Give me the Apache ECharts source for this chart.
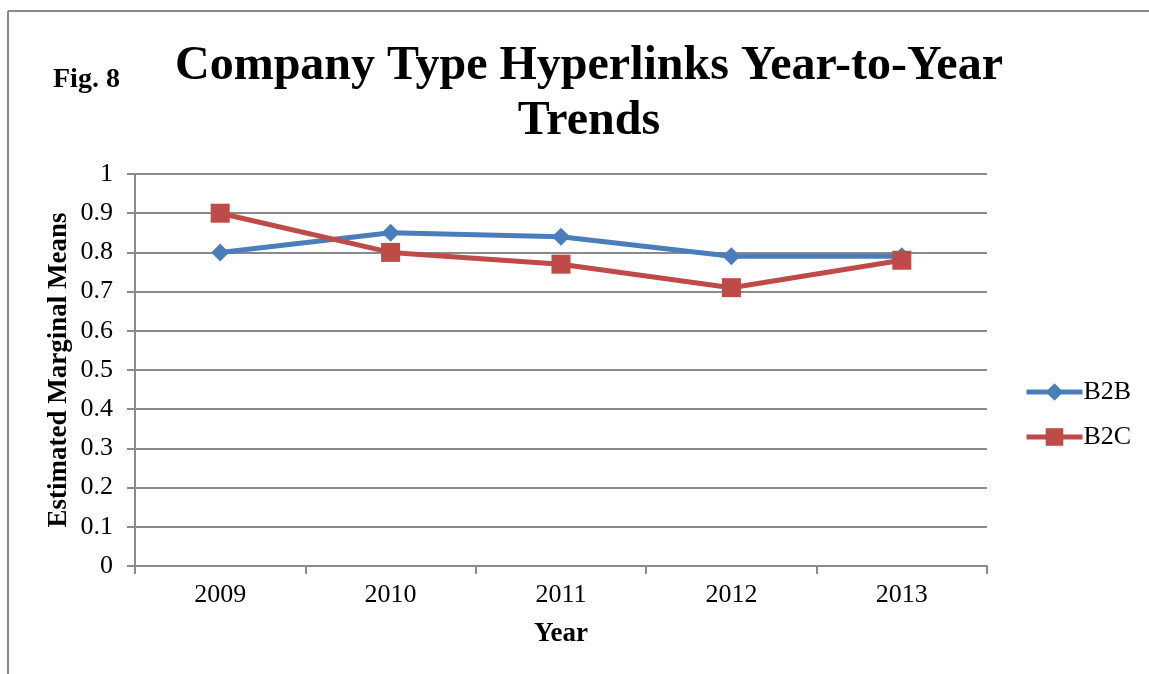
<!DOCTYPE html>
<html>
<head>
<meta charset="utf-8">
<script src="https://cdn.jsdelivr.net/npm/echarts@6/dist/echarts.min.js"></script>
<style>
html,body{margin:0;padding:0;background:#fff;}
#chart{width:1149px;height:674px;}
</style>
</head>
<body>
<div id="chart"></div>
<script>
const years = ['2009', '2010', '2011', '2012', '2013'];
const b2b = [0.80, 0.85, 0.84, 0.79, 0.79];
const b2c = [0.90, 0.80, 0.77, 0.71, 0.78];
const yTicks = { min: 0, max: 1, interval: 0.1 };

const serif = '"Liberation Serif", "DejaVu Serif", serif';
const blue = '#4a7ebb';
const red = '#be4b48';
const chart = echarts.init(document.getElementById('chart'));
chart.setOption({
  animation: false,
  backgroundColor: '#fff',
  textStyle: { fontFamily: serif },
  title: [
    {
      text: 'Company Type Hyperlinks Year-to-Year\nTrends',
      left: 584, top: 34, textAlign: 'center',
      textStyle: { fontFamily: serif, fontWeight: 'bold', fontSize: 48, lineHeight: 55, color: '#000' }
    },
    {
      text: 'Fig. 8',
      left: 48, top: 61,
      textStyle: { fontFamily: serif, fontWeight: 'bold', fontSize: 28, color: '#000' }
    }
  ],
  graphic: [
    { type: 'line', shape: { x1: 8, y1: 11, x2: 1149, y2: 11 }, style: { stroke: '#8a8a8a', lineWidth: 2 } },
    { type: 'line', shape: { x1: 8, y1: 11, x2: 8, y2: 674 }, style: { stroke: '#8a8a8a', lineWidth: 2 } }
  ],
  legend: {
    orient: 'vertical',
    left: 1019, top: 372,
    itemWidth: 56, itemHeight: 22, itemGap: 15,
    textStyle: { fontFamily: serif, fontSize: 26, lineHeight: 30, color: '#000', padding: [0, 0, 0, -4] },
    data: [
      { name: 'B2B', lineStyle: { width: 5, color: blue }, itemStyle: { color: blue } },
      { name: 'B2C', lineStyle: { width: 5, color: red }, itemStyle: { color: red } }
    ]
  },
  grid: { left: 135, right: 162, top: 174, bottom: 108 },
  xAxis: {
    type: 'category',
    data: years,
    boundaryGap: true,
    name: 'Year',
    nameLocation: 'middle',
    nameGap: 55,
    nameMoveOverlap: false,
    nameTextStyle: { fontFamily: serif, fontWeight: 'bold', fontSize: 27, color: '#000' },
    axisLine: { lineStyle: { color: '#8a8a8a', width: 2 } },
    axisTick: { show: true, length: 8, alignWithLabel: false, lineStyle: { color: '#8a8a8a', width: 2 } },
    axisLabel: { fontFamily: serif, fontSize: 26, color: '#000', margin: 16 }
  },
  yAxis: {
    type: 'value',
    min: yTicks.min, max: yTicks.max, interval: yTicks.interval,
    name: 'Estimated Marginal Means',
    nameLocation: 'middle',
    nameGap: 62,
    nameMoveOverlap: false,
    nameTextStyle: { fontFamily: serif, fontWeight: 'bold', fontSize: 27, color: '#000' },
    axisLine: { show: true, lineStyle: { color: '#8a8a8a', width: 2 } },
    axisTick: { show: true, length: 8, lineStyle: { color: '#8a8a8a', width: 2 } },
    axisLabel: {
      fontFamily: serif, fontSize: 26, color: '#000', margin: 22,
      formatter: v => (Math.round(v * 10) / 10).toString()
    },
    splitLine: { show: true, lineStyle: { color: '#8a8a8a', width: 2 } }
  },
  series: [
    {
      name: 'B2B', type: 'line', data: b2b,
      symbol: 'diamond', symbolSize: 18,
      lineStyle: { color: blue, width: 5 },
      itemStyle: { color: blue },
      z: 2
    },
    {
      name: 'B2C', type: 'line', data: b2c,
      symbol: 'rect', symbolSize: 19,
      lineStyle: { color: red, width: 5 },
      itemStyle: { color: red },
      z: 3
    }
  ]
});
</script>
</body>
</html>
